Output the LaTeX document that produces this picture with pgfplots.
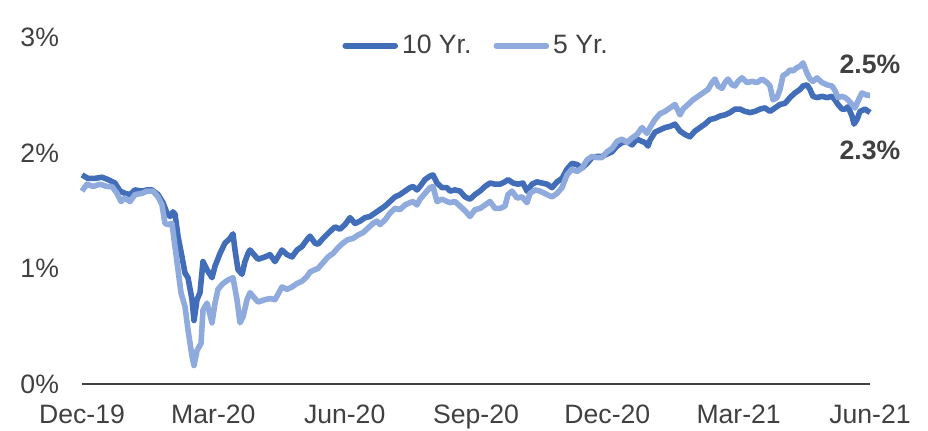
\documentclass[border=0pt]{standalone}
\usepackage{fontspec}
\setmainfont{Liberation Sans}
\usepackage{pgfplots}
\usepackage{pgfplotstable}
\pgfplotsset{compat=1.18}
\definecolor{TenYr}{HTML}{426DB8}
\definecolor{FiveYr}{HTML}{8FAADC}
\definecolor{Txt}{HTML}{404040}

% x: position along the date axis (0 = Dec-19, 788 = Jun-21)
\pgfplotstableread{
x y
0 1.81
6 1.78
13 1.78
20 1.79
26 1.77
33 1.74
38 1.67
43 1.65
48 1.64
53 1.68
60 1.67
65 1.68
70 1.68
76 1.64
81 1.57
85 1.48
88 1.45
91 1.49
93 1.47
96 1.28
100 1.10
103 0.96
106 0.92
110 0.73
112 0.55
115 0.73
118 0.79
121 1.06
125 0.99
130 0.92
133 1.02
138 1.13
143 1.22
148 1.26
151 1.30
153 1.16
156 0.99
160 0.95
163 1.06
166 1.13
168 1.16
171 1.13
176 1.08
183 1.10
188 1.12
193 1.06
200 1.16
205 1.12
210 1.10
215 1.16
220 1.19
225 1.25
228 1.28
233 1.22
236 1.21
241 1.26
248 1.32
253 1.36
258 1.34
263 1.38
268 1.44
273 1.39
278 1.41
283 1.44
288 1.45
293 1.48
298 1.51
303 1.54
308 1.58
313 1.62
318 1.64
323 1.67
328 1.70
331 1.71
335 1.68
338 1.71
343 1.77
348 1.80
351 1.81
355 1.74
360 1.70
365 1.70
368 1.67
373 1.68
378 1.67
383 1.62
388 1.60
393 1.64
398 1.67
403 1.71
408 1.74
413 1.73
418 1.73
423 1.75
426 1.77
431 1.74
436 1.73
441 1.74
445 1.67
450 1.73
455 1.75
460 1.74
465 1.73
470 1.70
475 1.75
480 1.78
485 1.86
490 1.91
495 1.90
500 1.87
505 1.91
510 1.96
515 1.97
520 1.97
525 1.99
530 2.01
535 2.06
540 2.09
545 2.10
550 2.07
555 2.12
560 2.10
563 2.09
566 2.06
568 2.11
573 2.18
578 2.20
583 2.22
588 2.23
593 2.25
598 2.19
603 2.16
608 2.14
613 2.19
618 2.22
623 2.25
628 2.29
633 2.30
638 2.32
643 2.33
648 2.35
653 2.38
658 2.38
663 2.36
668 2.35
673 2.36
678 2.38
683 2.39
688 2.36
693 2.39
698 2.42
703 2.43
708 2.48
713 2.52
718 2.55
721 2.58
725 2.59
728 2.55
731 2.49
735 2.48
740 2.49
745 2.48
750 2.49
753 2.46
756 2.42
760 2.38
763 2.38
766 2.40
770 2.32
772 2.25
775 2.29
778 2.36
783 2.38
788 2.35
}\tenyrdata

\pgfplotstableread{
x y
0 1.67
5 1.73
11 1.71
18 1.73
25 1.71
30 1.71
35 1.65
39 1.58
43 1.61
48 1.58
53 1.64
60 1.65
65 1.67
71 1.67
76 1.62
80 1.55
83 1.39
86 1.38
90 1.39
93 1.19
96 0.99
99 0.79
103 0.67
106 0.47
110 0.24
112 0.16
115 0.29
119 0.35
121 0.64
125 0.70
130 0.53
133 0.70
136 0.82
141 0.87
146 0.90
151 0.92
155 0.73
158 0.53
161 0.58
165 0.73
168 0.79
171 0.76
176 0.71
183 0.73
188 0.74
193 0.73
200 0.84
205 0.82
210 0.84
215 0.87
220 0.89
225 0.93
228 0.97
233 0.99
236 1.00
241 1.05
246 1.10
251 1.13
256 1.18
261 1.22
266 1.25
271 1.26
276 1.29
281 1.31
286 1.35
291 1.39
295 1.41
298 1.38
303 1.42
308 1.48
313 1.52
318 1.51
323 1.55
328 1.57
331 1.58
335 1.55
338 1.60
343 1.65
348 1.70
351 1.71
355 1.58
360 1.60
365 1.58
368 1.57
373 1.58
378 1.54
383 1.50
388 1.45
393 1.51
398 1.52
403 1.55
408 1.58
413 1.52
418 1.52
423 1.54
426 1.64
430 1.67
435 1.61
440 1.62
445 1.57
448 1.65
453 1.68
458 1.67
465 1.64
470 1.62
475 1.65
480 1.70
485 1.81
490 1.86
495 1.84
500 1.87
505 1.94
510 1.97
515 1.96
520 1.96
525 2.01
530 2.04
535 2.10
540 2.12
545 2.09
550 2.13
555 2.16
560 2.22
565 2.17
568 2.22
573 2.29
578 2.34
583 2.36
588 2.39
593 2.42
598 2.33
601 2.38
606 2.42
611 2.46
616 2.49
621 2.52
626 2.55
630 2.61
633 2.64
636 2.58
640 2.56
643 2.61
646 2.64
650 2.59
653 2.58
656 2.62
660 2.65
665 2.61
670 2.62
675 2.61
680 2.64
685 2.61
688 2.58
691 2.46
695 2.48
698 2.55
701 2.67
705 2.69
708 2.72
711 2.71
715 2.74
718 2.75
721 2.78
725 2.69
728 2.64
731 2.62
735 2.65
740 2.61
745 2.59
750 2.58
753 2.54
756 2.48
760 2.49
763 2.48
766 2.46
770 2.42
773 2.39
776 2.45
780 2.52
785 2.50
788 2.50
}\fiveyrdata

\begin{document}
\begin{tikzpicture}
\begin{axis}[
    at={(41pt,23.5pt)}, anchor=south west,
    scale only axis, width=394pt, height=173.25pt,
    xmin=0, xmax=788, ymin=0, ymax=3,
    clip=false,
    axis x line=bottom, axis y line=left,
    x axis line style={draw=Txt, line width=1.25pt, -},
    y axis line style={draw=none},
    major tick length=0pt,
    xtick={0,131.33,262.67,394,525.33,656.67,788},
    xticklabels={Dec-19,Mar-20,Jun-20,Sep-20,Dec-20,Mar-21,Jun-21},
    ytick={0,1,2,3},
    yticklabels={0\%,1\%,2\%,3\%},
    tick label style={font=\fontsize{13.3}{16}\selectfont, text=Txt},
    xticklabel style={yshift=-7pt},
    yticklabel style={xshift=-8pt},
    legend columns=2,
    legend style={at={(0.33,0.976)}, anchor=west, draw=none, fill=none,
        font=\fontsize{13.3}{16}\selectfont, text=Txt,
        inner sep=0pt,
        /tikz/every even column/.append style={column sep=9pt}},
    legend image code/.code={\draw[#1, line cap=round] (0pt,0pt) -- (25pt,0pt);},
    every axis plot/.append style={line width=2.8pt, line join=round},
]
\addplot[TenYr] table {\tenyrdata};
\addlegendentry{10 Yr.}
\addplot[FiveYr] table {\fiveyrdata};
\addlegendentry{5 Yr.}
\node[font=\fontsize{13.3}{16}\selectfont\bfseries, text=Txt] at (axis cs:788,2.77) {2.5\%};
\node[font=\fontsize{13.3}{16}\selectfont\bfseries, text=Txt] at (axis cs:788,2.02) {2.3\%};
\end{axis}
\pgfresetboundingbox
\useasboundingbox (0,0) rectangle (464pt,215.5pt);
\end{tikzpicture}
\end{document}
